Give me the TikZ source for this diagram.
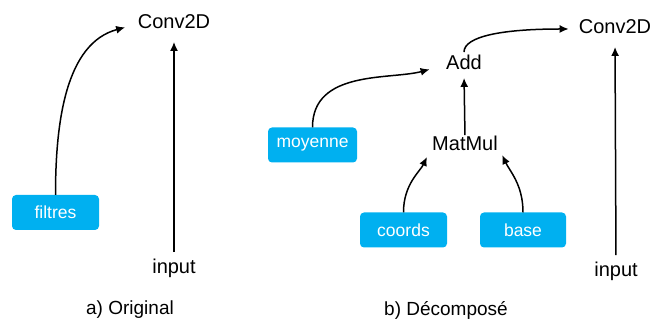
\documentclass[tikz,border=0pt]{standalone}
\usepackage{fontspec}
\setmainfont{Liberation Sans}
\usetikzlibrary{arrows.meta}
\definecolor{boxcyan}{HTML}{00B0F0}
\begin{document}
\begin{tikzpicture}[x=1pt,y=1pt,
  lbl/.style={inner sep=0pt,text height=13.5pt,text depth=4pt,font=\fontsize{20}{22}\selectfont},
  captext/.style={inner sep=0pt,font=\fontsize{19}{22}\selectfont},
  opbox/.style={fill=boxcyan,rounded corners=4pt,text=white,minimum height=35pt,
    inner sep=0pt,font=\fontsize{17.5}{20}\selectfont},
  link/.style={line width=1.5pt,-{Latex[length=9pt,width=8pt]}}]
\useasboundingbox (0,0) rectangle (662,323);

% a) original layer
\node[lbl] (convA) at (174,299) {Conv2D};
\node[lbl] (inA) at (174,54) {input};
\node[opbox,minimum width=87pt] (filtres) at (55.5,110.5) {filtres};
\node[captext] (capA) at (130,13) {a) Original};

\draw[link,shorten >=13pt] (filtres.north) to[out=90,in=195] (convA.west);
\draw[link,shorten <=8pt,shorten >=9pt] (inA.north) -- (convA.south);

% b) decomposed layer
\node[lbl] (add) at (464,258) {Add};
\node[lbl] (matmul) at (465,177) {MatMul};
\node[lbl] (convB) at (615,294) {Conv2D};
\node[lbl] (inB) at (616,51) {input};
\node[opbox,minimum width=89pt] (moy) at (312.5,178) {moyenne};
\node[opbox,minimum width=87pt] (coords) at (403.5,93) {coords};
\node[opbox,minimum width=86pt] (base) at (523,93) {base};
\node[captext] (capB) at (446,13) {b) Décomposé};

\draw[link,shorten >=17pt] (moy.north) to[out=90,in=195] (add.west);
\draw[link,shorten <=4pt,shorten >=10pt] (add.north) .. controls +(0,20) and +(-75,0) .. (convB.west);
\draw[link,shorten <=2pt,shorten >=4pt] (matmul.north) -- (add.south);
\draw[link,shorten >=12pt] (coords.north) to[out=90,in=245] (matmul.west);
\draw[link,shorten >=10pt] (base.north) to[out=90,in=295] (matmul.east);
\draw[link,shorten <=8pt,shorten >=9pt] (inB.north) -- (convB.south);
\end{tikzpicture}
\end{document}
